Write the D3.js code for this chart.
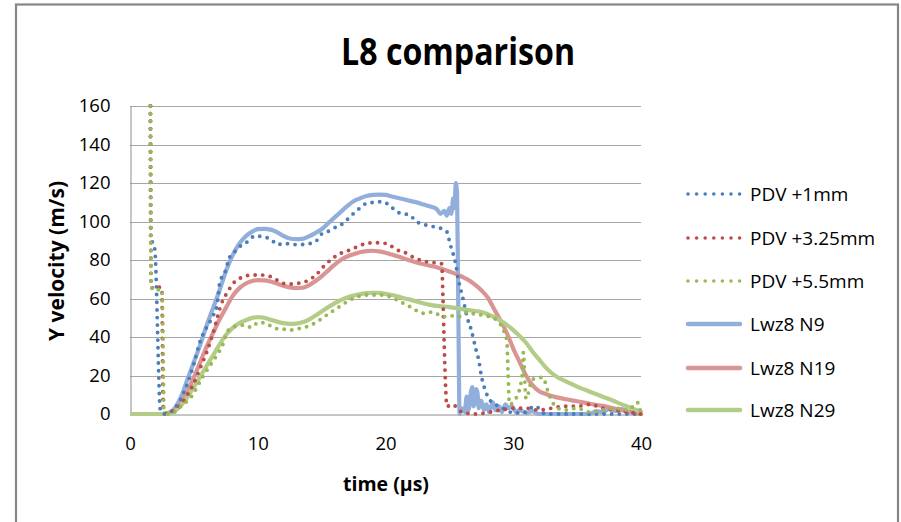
<!DOCTYPE html>
<html>
<head>
<meta charset="utf-8">
<script src="https://cdn.jsdelivr.net/npm/d3@7"></script>
<style>
  html, body { margin: 0; padding: 0; background: #fff; }
  svg { display: block; }
  text { font-family: "Open Sans", "DejaVu Sans", sans-serif; fill: #000; }
</style>
</head>
<body>
<svg id="chart" width="901" height="522"></svg>
<script>
// Axis ticks
const xTicks = [0, 10, 20, 30, 40];
const yTicks = [0, 20, 40, 60, 80, 100, 120, 140, 160];

// Series: [time (µs), Y velocity (m/s)]
const pdv1mm = [[1.6,160],[1.62,90],[1.8,89],[1.95,85],[2.05,70],[2.15,45],[2.25,20],[2.35,3],[2.6,0],[3,0.5],[3.5,3],[4,8],[4.5,16],[5,26],[5.5,38],[6,45],[6.5,51],[6.8,56],[7.05,69],[7.4,73],[7.8,81.5],[8.2,84.3],[8.6,87],[9.2,89.5],[9.8,92.6],[10.3,92.2],[10.7,91.6],[11.1,90.4],[11.5,88],[12.1,88.6],[12.8,88],[13.4,88],[14.1,88.6],[14.6,90],[14.9,93],[15.4,94.5],[15.9,96.4],[16.5,98.2],[17,101],[17.5,104.2],[18,107],[18.5,109.4],[19.1,110],[19.7,110.3],[20.3,108.5],[20.9,105],[21.4,104],[21.9,103.3],[22.4,100],[23,98.5],[23.7,97.4],[24.3,96.5],[24.8,94.7],[25,90],[25.2,85],[25.4,81],[25.7,70],[26.1,59],[26.4,50],[26.7,44],[27.1,33],[27.3,28],[27.5,20],[27.8,12.5],[28.2,7],[28.6,5],[29.5,2],[30,0.5],[31,1],[31.6,4],[32,3],[32.5,0],[40,0]];

const pdv325mm = [[1.6,160],[1.65,66],[2,65],[2.4,66],[2.5,65],[2.55,30],[2.6,3],[3,0],[3.5,2],[4,5],[4.5,10],[5,16],[5.5,24],[6,32],[6.5,42],[7.2,58],[7.6,63],[8.1,68],[8.9,71.3],[9.5,72.2],[10.2,72.2],[10.85,71.7],[11.4,70],[11.9,68],[12.5,67.5],[13.3,68],[14,69.6],[14.6,72.5],[15.2,77],[15.9,81],[16.5,83.5],[17.2,85.2],[18,87.5],[18.5,88.6],[19.1,89],[19.6,89],[20.3,87.8],[20.9,85.2],[21.4,84.3],[22,82],[22.5,80.5],[23,79.5],[23.5,78.8],[24,78.5],[24.4,78],[24.5,60],[24.6,35],[24.7,15],[24.8,4],[25.3,5],[25.6,3],[26,1],[27,0],[29,2],[30,3],[31,3],[32,2],[33,3],[34,4],[35,4],[36,5],[37,3],[38,2],[39,1],[40,0]];

const pdv55mm = [[1.6,160],[1.65,66],[2,64],[2.4,65],[2.5,64],[2.6,30],[2.65,3],[3,0],[3.5,1],[4,4],[4.8,9],[5.7,19.4],[6.8,30.6],[7.2,35],[7.7,43.6],[8.35,45.7],[9,46.2],[9.5,45],[10.05,47.6],[10.7,47],[11.3,44.5],[12,44.1],[12.6,43.6],[13.3,44.5],[13.9,45.5],[14.4,47],[15.4,51.4],[16.4,55.8],[17.5,60.1],[18.5,61.8],[19.6,61.8],[20.3,61],[20.9,59.2],[21.9,55.8],[23,52.3],[23.7,53],[24.5,50.5],[25.2,51],[25.7,50.5],[26.4,53],[26.9,52],[27.9,51],[28.7,48.8],[29.2,44],[29.5,38],[29.6,20],[29.7,5],[30.2,8],[30.7,20],[30.8,32],[30.9,18],[31,8],[31.5,18],[32.3,19],[32.8,10],[33.3,4],[34,2],[35,3],[36,1],[37,2],[38,3],[39,2],[39.7,6],[40,0]];

const lwzN9 = [[0,0],[2.5,0],[3,0.5],[3.5,3],[4,9],[4.5,18],[5,27],[5.5,36],[6,46],[6.5,55],[7,64],[7.5,74],[8,82],[8.5,88],[9,92],[9.5,94.5],[10,96],[10.5,96.2],[11,95.8],[11.5,94.5],[12,92.5],[12.5,91.2],[13,90.8],[13.5,91],[14,92.3],[14.5,94],[15,96],[15.5,99],[16,102],[16.5,105],[17,108],[17.5,110.5],[18,112],[18.5,113.2],[19,113.8],[19.5,114],[20,113.8],[20.5,113],[21,112.2],[21.5,111.4],[22,110.6],[22.5,109.8],[23,108.8],[23.5,107.8],[24,106.5],[24.3,104],[24.6,105.5],[24.8,103],[25,107],[25.15,104],[25.3,112],[25.4,107],[25.5,120],[25.6,115],[25.7,55],[25.8,0],[26,3],[26.2,1],[26.35,9],[26.5,2],[26.7,12],[26.8,14],[26.9,4],[27.1,13],[27.2,11],[27.3,3],[27.5,7],[27.7,2],[27.9,5],[28.1,1],[28.4,6],[28.6,2],[28.9,4],[29.1,1],[29.4,5],[29.6,3],[29.9,4],[30.2,1],[30.5,2],[31,0.5],[31.5,1.5],[32,0],[36,0],[36.5,1.5],[37,1],[37.5,2.5],[38,1.5],[38.5,2.5],[39,1],[39.5,2],[40,0]];

const lwzN19 = [[0,0],[2.5,0],[3,0.3],[3.5,2],[4,6],[4.5,12],[5,19],[5.5,27],[6,35],[6.5,42],[7,49],[7.5,55],[8,61],[8.5,65],[9,67.5],[9.5,69],[10,69.5],[10.5,69.4],[11,68.8],[11.5,67.8],[12,66.6],[12.5,65.8],[13,65.4],[13.5,65.6],[14,66.8],[14.5,69],[15,71.5],[15.5,74.5],[16,77.5],[16.5,80],[17,81.8],[17.5,83],[18,84],[18.5,84.6],[19,84.8],[19.5,84.5],[20,83.8],[20.5,82.8],[21,81.8],[21.5,80.7],[22,79.6],[22.5,78.6],[23,77.8],[23.5,77],[24,76.2],[24.5,75.2],[25,74],[25.5,72.8],[26,71.3],[26.5,69.6],[27,67.2],[27.5,64.3],[28,60.5],[28.5,54.5],[29,48.5],[29.5,42],[30,34],[30.5,27],[31,20],[31.5,15],[32,12],[32.5,10.5],[33,9.3],[34,7.8],[35,6.6],[36,5.3],[37,4.2],[38,2.7],[39,1.2],[39.6,0.3],[40,0]];

const lwzN29 = [[0,0],[2.5,0],[3,0.2],[3.5,1.5],[4,4.5],[4.5,9],[5,14],[5.5,19.5],[6,25],[6.5,30.5],[7,36],[7.5,41],[8,44.5],[8.5,47],[9,48.5],[9.5,49.8],[10,50.3],[10.5,50],[11,49],[11.5,48],[12,47.2],[12.5,46.8],[13,46.9],[13.5,47.6],[14,49],[14.5,51],[15,53.3],[15.5,55.5],[16,57.5],[16.5,59.2],[17,60.5],[17.5,61.5],[18,62.3],[18.5,62.8],[19,63],[19.5,62.9],[20,62.4],[20.5,61.8],[21,61],[21.5,60],[22,59.3],[22.5,58.3],[23,57.4],[23.5,56.7],[24,56.2],[25,55.5],[26,54.5],[27,53.5],[27.5,53],[28,51.8],[28.5,50.3],[29,48.5],[29.5,46.3],[30,43.6],[30.5,40.5],[31,37],[31.5,32.5],[32,28.5],[32.5,24.5],[33,21.3],[33.5,19],[34,17.3],[34.5,15.8],[35,14.2],[35.5,12.9],[36,11.6],[36.5,10.3],[37,9],[37.5,7.8],[38,6.4],[38.5,5],[39,3.7],[39.5,2.4],[40,1.2]];

const seriesNames = ["PDV +1mm", "PDV +3.25mm", "PDV +5.5mm", "Lwz8 N9", "Lwz8 N19", "Lwz8 N29"];

const series = [
  { name: seriesNames[0], data: pdv1mm,   color: "#4a7ebb", dotted: true },
  { name: seriesNames[1], data: pdv325mm, color: "#be4b48", dotted: true },
  { name: seriesNames[2], data: pdv55mm,  color: "#98b954", dotted: true },
  { name: seriesNames[3], data: lwzN9,    color: "#92aedb", dotted: false },
  { name: seriesNames[4], data: lwzN19,   color: "#d99593", dotted: false },
  { name: seriesNames[5], data: lwzN29,   color: "#b3cd88", dotted: false }
];

const svg = d3.select("#chart");

// Chart frame
svg.append("rect")
  .attr("x", 16).attr("y", 4.5).attr("width", 882).attr("height", 600)
  .attr("fill", "#fff").attr("stroke", "#868686").attr("stroke-width", 2.2);

const plot = { left: 130, right: 641, top: 106, bottom: 414 };
const x = d3.scaleLinear().domain([0, 40]).range([plot.left, plot.right]);
const y = d3.scaleLinear().domain([0, 160]).range([plot.bottom, plot.top]);

// Title
svg.append("text")
  .attr("x", 458).attr("y", 65)
  .attr("text-anchor", "middle")
  .attr("font-size", 37).attr("font-weight", 700)
  .attr("textLength", 234).attr("lengthAdjust", "spacingAndGlyphs")
  .text("L8 comparison");

// Horizontal gridlines
svg.append("g")
  .selectAll("line")
  .data(yTicks.filter(d => d > 0))
  .join("line")
  .attr("x1", plot.left).attr("x2", plot.right)
  .attr("y1", d => Math.round(y(d)) + 0.5).attr("y2", d => Math.round(y(d)) + 0.5)
  .attr("stroke", "#a6a6a6").attr("stroke-width", 1);

// Axes
const yAxis = d3.axisLeft(y).tickValues(yTicks).tickSize(0).tickPadding(20);
const gy = svg.append("g").attr("transform", `translate(${plot.left + 0.5},0)`).call(yAxis);
gy.select(".domain").attr("stroke", "#8c8c8c");
gy.selectAll("text").attr("font-size", 18.5).attr("font-family", "Open Sans, sans-serif").attr("fill", "#000");

const xAxis = d3.axisBottom(x).tickValues(xTicks).tickSize(0).tickPadding(22);
const gx = svg.append("g").attr("transform", `translate(0,${plot.bottom + 0.5})`).call(xAxis);
gx.select(".domain").attr("stroke", "#8c8c8c");
gx.selectAll("text").attr("font-size", 18.5).attr("font-family", "Open Sans, sans-serif").attr("fill", "#000");

// Axis titles
svg.append("text")
  .attr("transform", "translate(64,261) rotate(-90)")
  .attr("text-anchor", "middle")
  .attr("font-size", 21).attr("font-weight", 700)
  .text("Y velocity (m/s)");

svg.append("text")
  .attr("x", 386).attr("y", 491)
  .attr("text-anchor", "middle")
  .attr("font-size", 19.5).attr("font-weight", 700)
  .text("time (µs)");

// Series lines
svg.append("clipPath").attr("id", "plotClip")
  .append("rect")
  .attr("x", plot.left).attr("y", plot.top - 2)
  .attr("width", plot.right - plot.left + 2).attr("height", plot.bottom - plot.top + 4);

const line = d3.line()
  .x(d => x(d[0]))
  .y(d => y(d[1]))
  .curve(d3.curveMonotoneX);

const lines = svg.append("g").attr("clip-path", "url(#plotClip)");

const drawOrder = series.filter(s => !s.dotted).concat(series.filter(s => s.dotted));
lines.selectAll("path")
  .data(drawOrder)
  .join("path")
  .attr("d", s => line(s.data))
  .attr("fill", "none")
  .attr("stroke", s => s.color)
  .attr("stroke-width", s => s.dotted ? 3.9 : 4.2)
  .attr("stroke-linecap", "round")
  .attr("stroke-linejoin", "round")
  .attr("stroke-dasharray", s => s.dotted ? "0 7.6" : null);

// Legend
const legendRows = [194, 238, 281, 324, 368, 410];
const legend = svg.append("g");
series.forEach((s, i) => {
  const ly = legendRows[i];
  legend.append("line")
    .attr("x1", 688).attr("x2", 740)
    .attr("y1", ly).attr("y2", ly)
    .attr("stroke", s.color)
    .attr("stroke-width", s.dotted ? 3.6 : 4.5)
    .attr("stroke-linecap", "round")
    .attr("stroke-dasharray", s.dotted ? "0 8.6" : null);
  legend.append("text")
    .attr("x", 750).attr("y", ly + 7)
    .attr("font-size", 19)
    .text(s.name);
});
</script>
</body>
</html>
